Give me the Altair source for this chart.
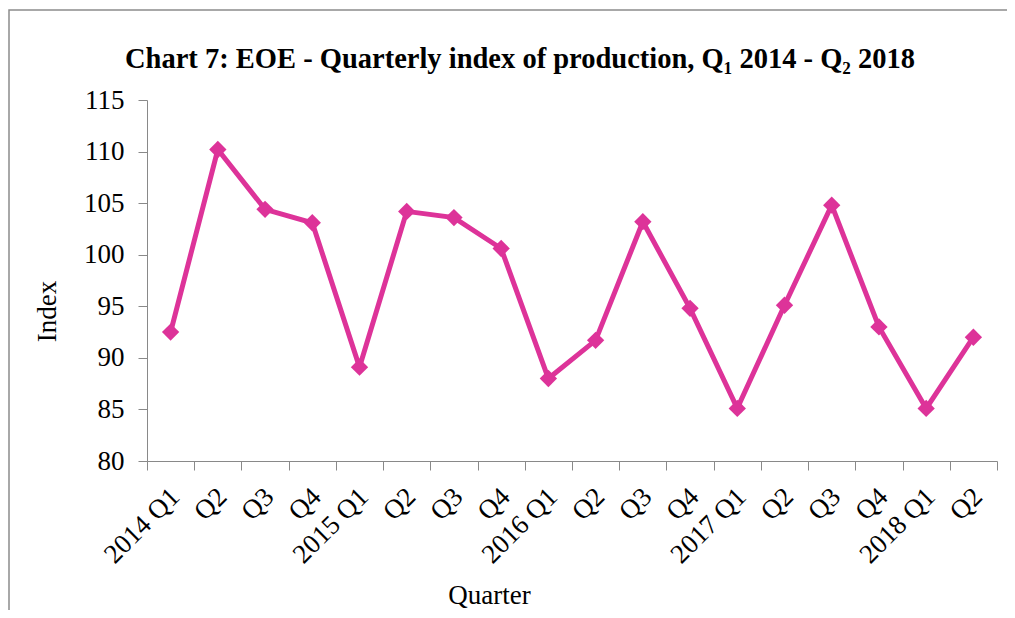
import altair as alt
import pandas as pd

quarters = ["2014 Q1", "Q2 ", "Q3 ", "Q4 ", "2015 Q1", "Q2  ", "Q3  ", "Q4  ",
            "2016 Q1", "Q2   ", "Q3   ", "Q4   ", "2017 Q1", "Q2    ", "Q3    ", "Q4    ",
            "2018 Q1", "Q2     "]
index_values = [92.5, 110.2, 104.4, 103.1, 89.1, 104.2, 103.6, 100.6,
                88.0, 91.7, 103.2, 94.8, 85.1, 95.1, 104.8, 93.0, 85.1, 92.0]
y_ticks = [80, 85, 90, 95, 100, 105, 110, 115]
title_text = "Chart 7: EOE - Quarterly index of production, Q\u2081 2014 - Q\u2082 2018"

df = pd.DataFrame({"Quarter": quarters, "Index": index_values})

FONT = "Liberation Serif"
FS = 27
COLOR = "#DD3399"
AXIS_GRAY = "#898989"

x_enc = alt.X("Quarter:N", sort=quarters, bandPosition=0.5,
              scale=alt.Scale(type="band", paddingInner=0, paddingOuter=0),
              axis=alt.Axis(title="Quarter", labelAngle=-45, tickBand="extent",
                            labelFont=FONT, labelFontSize=FS, labelColor="#000000",
                            labelOffset=-5,
                            titleFont=FONT, titleFontSize=FS, titleFontWeight="normal",
                            titleColor="#000000", titleX=342, titleY=142,
                            titleBaseline="alphabetic", titleAnchor="start", titleAlign="center",
                            domainColor=AXIS_GRAY, tickColor=AXIS_GRAY, tickSize=9,
                            labelPadding=13, grid=False))
y_enc = alt.Y("Index:Q",
              scale=alt.Scale(domain=[80, 115], nice=False, zero=False),
              axis=alt.Axis(title="Index", values=y_ticks,
                            labelFont=FONT, labelFontSize=FS, labelColor="#000000",
                            titleFont=FONT, titleFontSize=FS, titleFontWeight="normal",
                            titleColor="#000000", titleX=-100, titleY=211,
                            titleAngle=-90, titleBaseline="middle", titleAlign="center",
                            titleAnchor="start",
                            domainColor=AXIS_GRAY, tickColor=AXIS_GRAY, tickSize=9,
                            labelPadding=14, grid=False))

line = alt.Chart(df).mark_line(color=COLOR, strokeWidth=5).encode(x=x_enc, y=y_enc)
points = alt.Chart(df).mark_point(shape="diamond", filled=True, size=300,
                                  color=COLOR, opacity=1).encode(x=x_enc, y=y_enc)

frame = alt.Chart(pd.DataFrame({"a": [0]})).mark_rect(
    fill=None, stroke="#8c8c8c", strokeWidth=1.5, clip=False
).encode(x=alt.value(-138), x2=alt.value(900), y=alt.value(-90), y2=alt.value(560))

title = alt.Chart(pd.DataFrame({"t": [title_text]})).mark_text(
    font=FONT, fontSize=28.5, fontWeight="bold", color="#000000",
    align="center", baseline="alphabetic", clip=False
).encode(text="t:N", x=alt.value(373), y=alt.value(-32))

chart = alt.layer(frame, line, points, title).properties(
    width=850, height=361,
    padding={"left": 139, "top": 92, "right": 10, "bottom": 149},
    autosize=alt.AutoSizeParams(type="none"),
    background="#ffffff",
).configure_view(stroke=None)

chart.save("out.html", embed_options={"renderer": "svg", "actions": False})
